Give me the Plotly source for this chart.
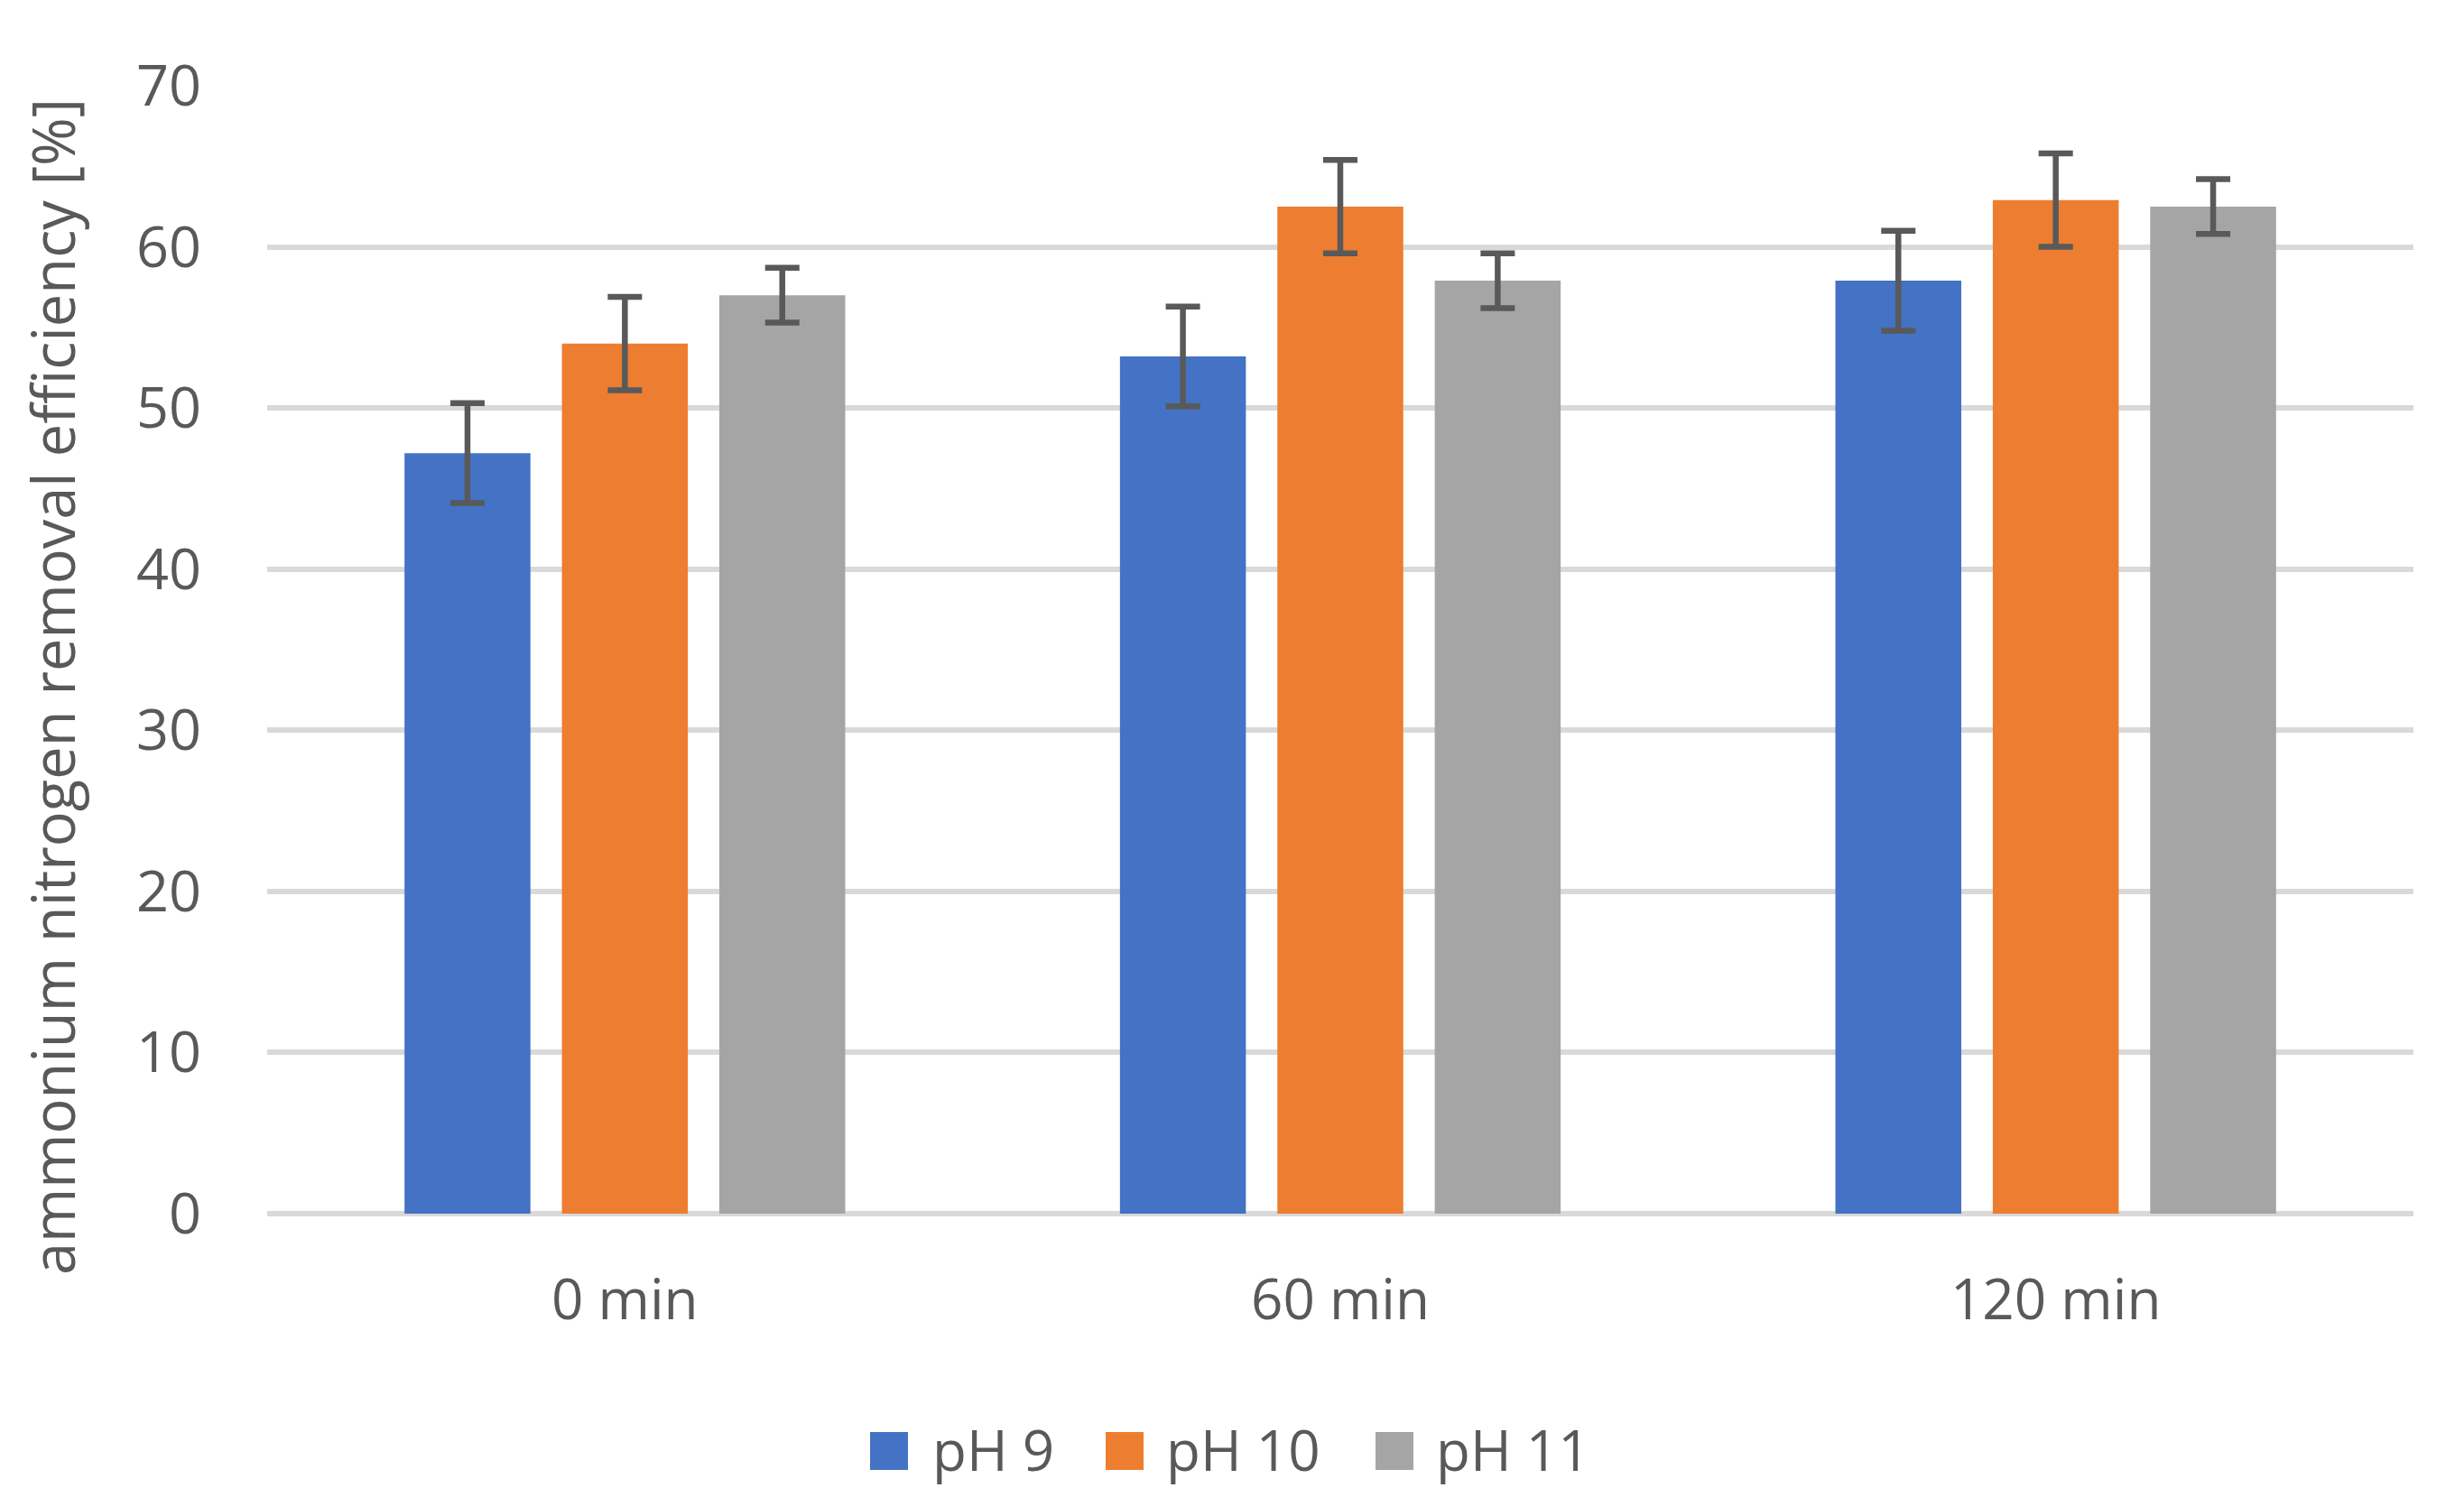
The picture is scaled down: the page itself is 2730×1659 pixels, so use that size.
import plotly.graph_objects as go

categories = ["0 min", "60 min", "120 min"]
series_names = ["pH 9", "pH 10", "pH 11"]
ph9 = [47.2, 53.2, 57.9]
ph10 = [54.0, 62.5, 62.9]
ph11 = [57.0, 57.9, 62.5]
ph9_err = [3.1, 3.1, 3.1]
ph10_err = [2.9, 2.9, 2.9]
ph11_err = [1.7, 1.7, 1.7]
y_ticks = [0, 10, 20, 30, 40, 50, 60, 70]
y_title = "ammonium nitrogen removal efficiency [%]"

colors = ["#4472C4", "#ED7D31", "#A5A5A5"]
text_color = "#595959"
font_family = "Open Sans"

OFF = 8  # page body margin
W, H = 2730 - OFF, 1659 - OFF
L, R, T, B = 296 - OFF, 56, 95 - OFF, 314

values = [ph9, ph10, ph11]
errors = [ph9_err, ph10_err, ph11_err]

fig = go.Figure()
for name, vals, errs, col in zip(series_names, values, errors, colors):
    fig.add_trace(go.Bar(
        name=name, x=categories, y=vals, marker_color=col, marker_line_width=0,
        error_y=dict(type="data", array=errs, color="#595959", thickness=6.5, width=19),
        showlegend=False,
    ))

pw = W - L - R
ph = H - T - B
def px_x(px):
    return (px - OFF - L) / pw
def px_y(py):
    return (H - B - (py - OFF)) / ph

# custom legend (large square swatches)
sw_x = [964, 1225, 1524]
tx_x = [1031, 1290, 1589]
sq = 42
yc = 1608
for i, name in enumerate(series_names):
    fig.add_shape(type="rect", xref="paper", yref="paper",
                  x0=px_x(sw_x[i]), x1=px_x(sw_x[i] + sq),
                  y0=px_y(yc - sq / 2), y1=px_y(yc + sq / 2),
                  fillcolor=colors[i], line_width=0)
    fig.add_annotation(text=name, xref="paper", yref="paper",
                       x=px_x(tx_x[i]), y=px_y(yc - 2), xanchor="left", yanchor="middle",
                       showarrow=False, font=dict(size=62, color=text_color, family=font_family))

# y-axis title
fig.add_annotation(text=y_title, xref="paper", yref="paper", x=px_x(58), y=px_y(761),
                   xanchor="center", yanchor="middle", textangle=-90, showarrow=False,
                   font=dict(size=65, color=text_color, family=font_family))

fig.update_layout(
    width=W, height=H,
    margin=dict(l=L, r=R, t=T, b=B),
    paper_bgcolor="white", plot_bgcolor="white",
    barmode="group", bargap=0.34, bargroupgap=0.2,
    font=dict(family=font_family, color=text_color, size=62),
)
fig.update_xaxes(showline=False, showgrid=False, ticks="", tickfont=dict(size=62, color=text_color),
                 ticklabelstandoff=54)
fig.update_yaxes(range=[0, 70], tickvals=y_ticks, showgrid=True, gridcolor="#D9D9D9", gridwidth=6,
                 zeroline=True, zerolinecolor="#D9D9D9", zerolinewidth=6, showline=False, ticks="",
                 tickfont=dict(size=63, color=text_color), ticklabelstandoff=72)

fig.write_html("out.html")
